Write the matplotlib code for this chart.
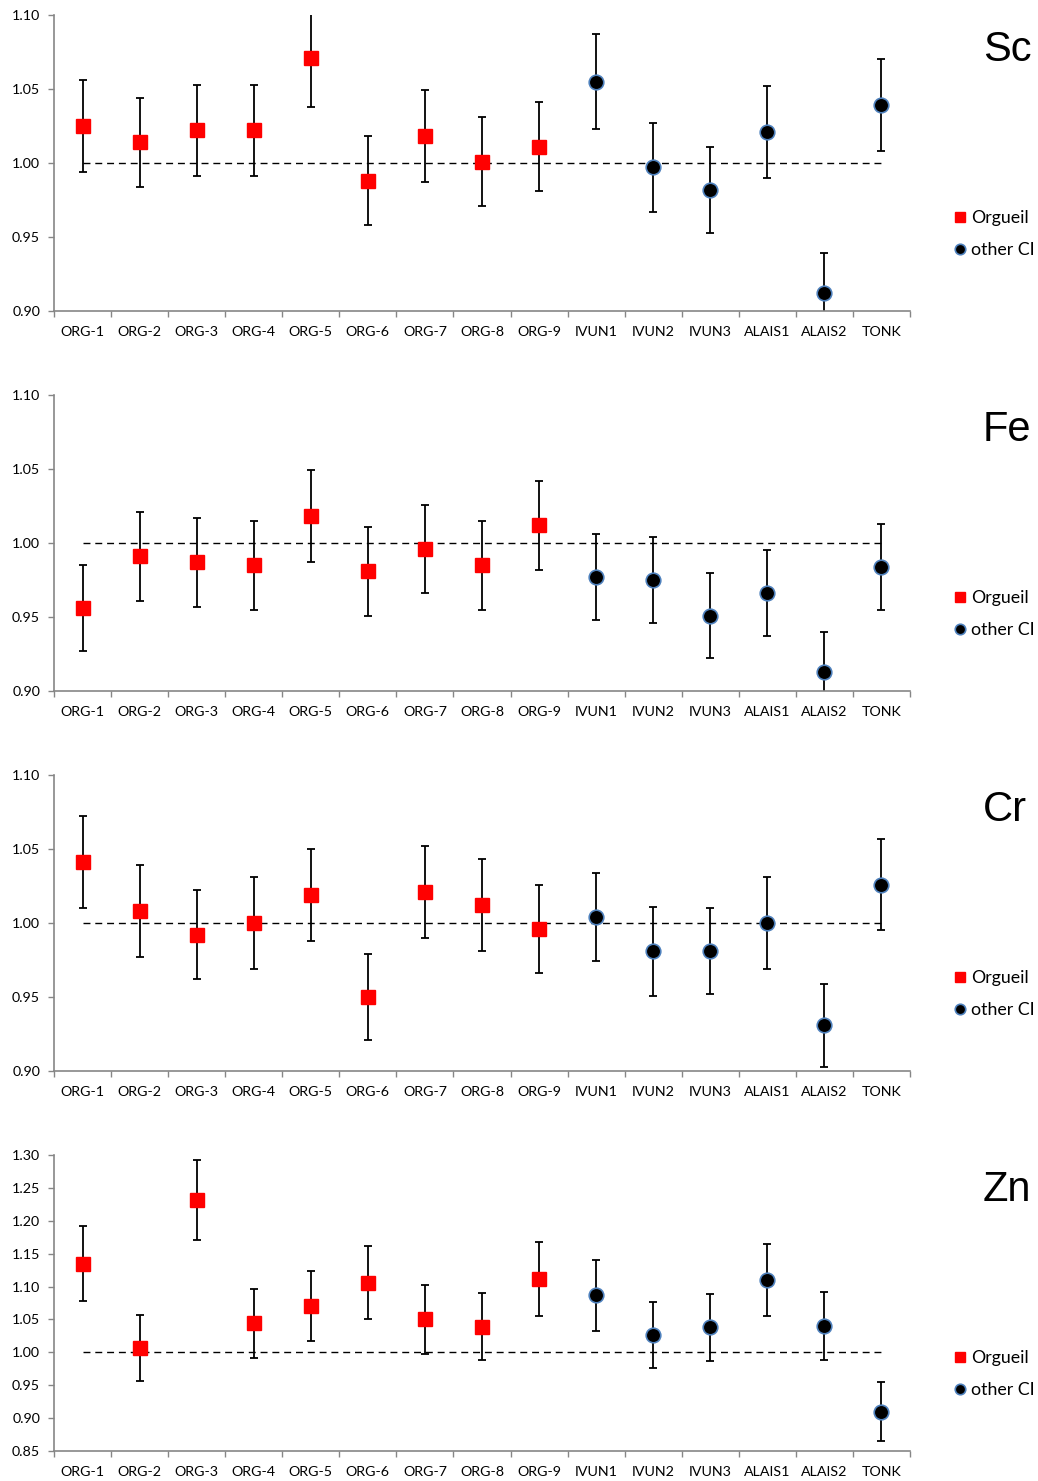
import numpy as np
from matplotlib import pyplot as plt
from matplotlib.ticker import FixedLocator, MultipleLocator, FormatStrFormatter

# samples, first nine are Orgueil fragments
samples = ['ORG-1', 'ORG-2', 'ORG-3', 'ORG-4', 'ORG-5', 'ORG-6', 'ORG-7', 'ORG-8', 'ORG-9',
           'IVUN1', 'IVUN2', 'IVUN3', 'ALAIS1', 'ALAIS2', 'TONK']
n_orgueil = 9

# values (ratio to CI) and error bar half-widths
sc_val = [1.025, 1.014, 1.022, 1.022, 1.071, 0.988, 1.018, 1.001, 1.011,
          1.055, 0.997, 0.982, 1.021, 0.912, 1.039]
sc_err = [0.031, 0.030, 0.031, 0.031, 0.033, 0.030, 0.031, 0.030, 0.030,
          0.032, 0.030, 0.029, 0.031, 0.027, 0.031]

fe_val = [0.956, 0.991, 0.987, 0.985, 1.018, 0.981, 0.996, 0.985, 1.012,
          0.977, 0.975, 0.951, 0.966, 0.913, 0.984]
fe_err = [0.029, 0.030, 0.030, 0.030, 0.031, 0.030, 0.030, 0.030, 0.030,
          0.029, 0.029, 0.029, 0.029, 0.027, 0.029]

cr_val = [1.041, 1.008, 0.992, 1.000, 1.019, 0.950, 1.021, 1.012, 0.996,
          1.004, 0.981, 0.981, 1.000, 0.931, 1.026]
cr_err = [0.031, 0.031, 0.030, 0.031, 0.031, 0.029, 0.031, 0.031, 0.030,
          0.030, 0.030, 0.029, 0.031, 0.028, 0.031]

zn_val = [1.135, 1.006, 1.232, 1.044, 1.070, 1.106, 1.050, 1.039, 1.111,
          1.087, 1.026, 1.038, 1.110, 1.040, 0.910]
zn_err = [0.057, 0.050, 0.061, 0.052, 0.053, 0.055, 0.052, 0.051, 0.056,
          0.054, 0.050, 0.051, 0.055, 0.052, 0.045]

elements = ['Sc', 'Fe', 'Cr', 'Zn']
values = [sc_val, fe_val, cr_val, zn_val]
errors = [sc_err, fe_err, cr_err, zn_err]
ylims = [(0.90, 1.10), (0.90, 1.10), (0.90, 1.10), (0.85, 1.30)]

W, H = 1038, 1481
axis_gray = '#868686'
tick_font = 'Lato'

fig = plt.figure(figsize=(W/100, H/100), dpi=100)

panel_tops = [15, 395, 775, 1155]
panel_h = 296
x = np.arange(len(samples))

for i in range(4):
    top = panel_tops[i]
    ax = fig.add_axes([54/W, 1-(top+panel_h)/H, 856/W, panel_h/H])
    val = np.array(values[i])
    err = np.array(errors[i])

    # reference line at 1
    ax.plot([x[0], x[-1]], [1, 1], color='k', lw=1.0, ls=(0, (5, 3.5)), zorder=1)

    ax.errorbar(x, val, yerr=err, fmt='none', ecolor='k', elinewidth=1.3,
                capsize=2.6, capthick=1.3, zorder=2)
    h1, = ax.plot(x[:n_orgueil], val[:n_orgueil], 's', color='#ff0000', ms=10,
                  mec='#ff0000', zorder=3, label='Orgueil')
    h2, = ax.plot(x[n_orgueil:], val[n_orgueil:], 'o', mfc='black', mec='#4f81bd',
                  mew=1.2, ms=10.5, zorder=3, label='other CI')

    ax.set_xlim(-0.5, len(samples)-0.5)
    ax.set_ylim(*ylims[i])
    ax.yaxis.set_major_locator(MultipleLocator(0.05))
    ax.yaxis.set_major_formatter(FormatStrFormatter('%.2f'))

    ax.set_xticks(x)
    ax.set_xticklabels(samples)
    ax.xaxis.set_minor_locator(FixedLocator(np.arange(-0.5, len(samples), 1.0)))
    ax.tick_params(axis='x', which='major', length=0, pad=10.5)
    ax.tick_params(axis='x', which='minor', length=4, width=1, color=axis_gray)
    ax.tick_params(axis='y', which='major', length=4, width=1, color=axis_gray, pad=6)
    for lab in ax.get_xticklabels() + ax.get_yticklabels():
        lab.set_family(tick_font)
        lab.set_fontsize(10.3)

    for s in ['top', 'right']:
        ax.spines[s].set_visible(False)
    for s in ['left', 'bottom']:
        ax.spines[s].set_color(axis_gray)
        ax.spines[s].set_linewidth(1.2)

    ax.text(1.085, 1-35/panel_h, elements[i], transform=ax.transAxes,
            ha='left', va='center', fontsize=30, family='Liberation Sans')

    ax.legend(handles=[h1, h2], loc='upper left', bbox_to_anchor=(1.052, 1-195/panel_h),
              frameon=False, prop={'family': 'Lato', 'size': 12.8}, markerscale=0.72,
              handlelength=0.6, handletextpad=0.35, labelspacing=0.9, borderpad=0,
              borderaxespad=0)

fig.savefig('out.png', dpi=100)
